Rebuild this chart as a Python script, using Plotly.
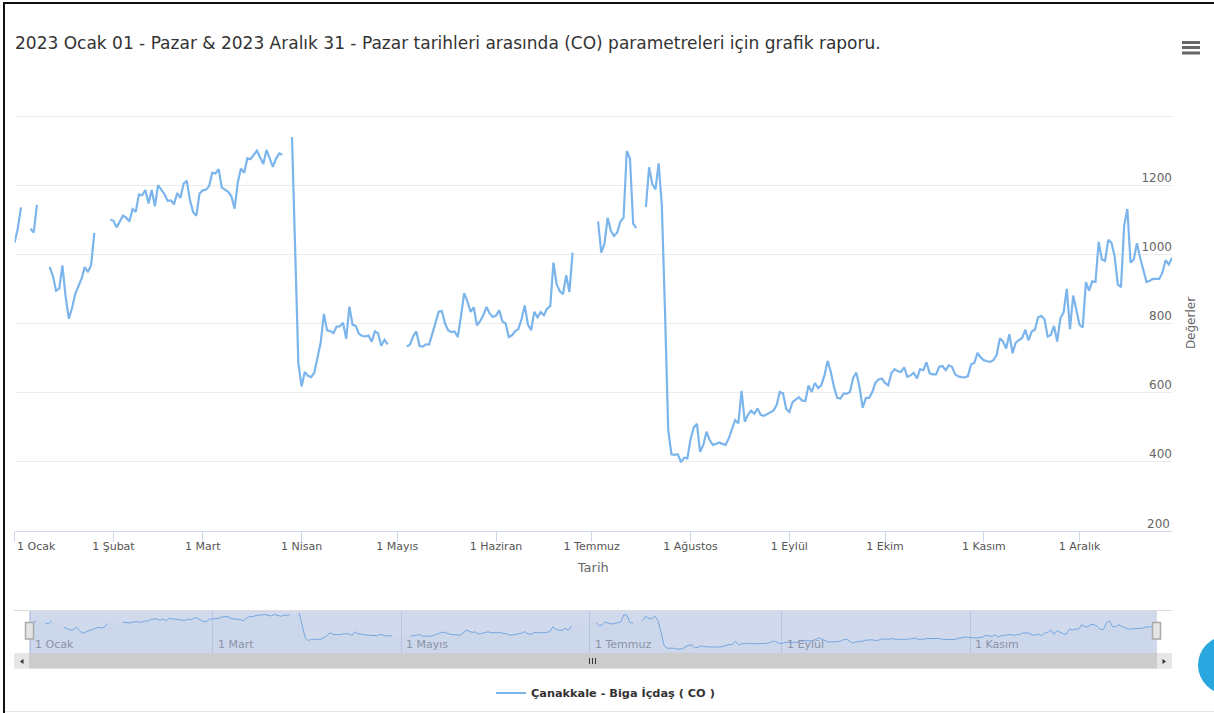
import pandas as pd
import plotly.graph_objects as go

W, H = 1214, 713
BLUE = "#7cb5ec"
FONT = "DejaVu Sans"

START_DATE = "2023-01-01"
END_DATE = "2023-12-30"
NAV_START = "2022-12-31 16:00"
NAV_END = "2023-12-31 08:00"

co_jan = [1034, 1075, 1136, None, None, 1074, 1063, 1143, None, None, None,
          964, 938, 895, 901, 968, 878, 814, 844, 885, 910, 930, 963, 949, 969, 1062,
          None, None, None, None,
          1100]
co_feb_mar = [1097, 1078, 1097, 1112, 1106, 1095, 1131, 1123, 1173, 1171, 1186, 1147,
              1186, 1139, 1200, 1188, 1174, 1155, 1156, 1145, 1177, 1163, 1204, 1213,
              1157, 1122, 1112, 1176, 1185, 1187, 1197, 1236, 1234, 1246, 1193, 1187,
              1181, 1168, 1132, 1208, 1248, 1236, 1278, 1275, 1287, 1300, 1280, 1261,
              1302, 1275, 1253, 1277, 1292, 1288, None, None,
              1339, 1012, 685]
co_apr = [618, 660, 649, 645, 658, 700, 745, 828, 780, 778, 772, 791, 792, 802, 756,
          849, 796, 793, 770, 764, 763, 765, 747, 777, 772, 736, 753, 740,
          None, None, None, None, None]
co_may_jun = [733, 739, 763, 777, 735, 733, 740, 739, 770, 804, 834, 836, 800, 780, 775,
              777, 761, 821, 888, 864, 834, 847, 795, 807, 824, 848, 829, 819, 823, 838,
              806, 800, 761, 766, 778, 784, 813, 852, 797, 781, 834, 818, 833, 824, 843,
              850, 976, 914, 893, 885, 940, 891, 1005,
              None, None, None, None, None, None, None,
              1095]
co_jul = [1005, 1030, 1106, 1068, 1053, 1063, 1095, 1106, 1299, 1277, 1089, 1076,
          None, None,
          1137, 1252, 1203, 1188, 1263, 1140, 831, 492, 422, 420, 422, 399, 412, 410]
co_aug = [465, 499, 510, 429, 449, 487, 463, 449, 452, 456, 452, 449, 468, 494, 521, 511,
          605, 516, 536, 548, 539, 554, 536, 533, 538, 543, 548, 564, 602, 598, 553, 544]
co_sep = [573, 580, 587, 577, 576, 621, 602, 628, 613, 621, 650, 692, 660, 616, 585, 583,
          597, 597, 602, 643, 658, 616, 556, 585, 585, 602, 629, 638, 641, 628, 621, 657]
co_oct = [668, 662, 660, 673, 646, 650, 657, 641, 668, 665, 688, 656, 653, 653, 675, 677,
          665, 679, 675, 653, 647, 645, 644, 648, 682, 686, 715, 702, 694, 691, 689]
co_nov = [694, 709, 757, 748, 728, 769, 714, 745, 752, 758, 782, 751, 777, 782, 818, 822,
          813, 762, 767, 793, 748, 816, 832, 900, 784, 881, 840, 796, 789, 920]
co_dec = [895, 922, 920, 1036, 985, 981, 1042, 1034, 995, 913, 905, 1083, 1131, 976, 985,
          1032, 990, 956, 920, 924, 929, 929, 929, 947, 983, 971, 990]
co_values = co_jan + co_feb_mar + co_apr + co_may_jun + co_jul + co_aug + co_sep + co_oct + co_nov + co_dec

month_dates = ["2023-01-01", "2023-02-01", "2023-03-01", "2023-04-01", "2023-05-01", "2023-06-01",
               "2023-07-01", "2023-08-01", "2023-09-01", "2023-10-01", "2023-11-01", "2023-12-01"]
month_labels = ["1 Ocak", "1 Şubat", "1 Mart", "1 Nisan", "1 Mayıs", "1 Haziran",
                "1 Temmuz", "1 Ağustos", "1 Eylül", "1 Ekim", "1 Kasım", "1 Aralık"]
nav_dates = month_dates[0::2]
nav_labels = month_labels[0::2]
y_ticks = [400, 600, 800, 1000, 1200, 1400]
y_labels = ["400", "600", "800", "1000", "1200", ""]
y_min = 200

TITLE = "2023 Ocak 01 - Pazar & 2023 Aralık 31 - Pazar tarihleri arasında (CO) parametreleri için grafik raporu."
SERIES = "Çanakkale - Biga İçdaş ( CO )"

dates = pd.date_range(START_DATE, periods=len(co_values), freq="D")


def px(x):
    return x / W


def py(y):
    return 1 - y / H


def rect(x0, y0, x1, y1, fill, line=None, width=1):
    return dict(type="rect", xref="paper", yref="paper", x0=px(x0), x1=px(x1), y0=py(y0), y1=py(y1),
                fillcolor=fill, line=dict(color=line or "rgba(0,0,0,0)", width=width if line else 0), layer="above")


def seg(x0, y0, x1, y1, color, width=1):
    return dict(type="line", xref="paper", yref="paper", x0=px(x0), x1=px(x1), y0=py(y0), y1=py(y1),
                line=dict(color=color, width=width), layer="above")


def tri(points, color):
    path = "M " + " L ".join(f"{px(a)},{py(b)}" for a, b in points) + " Z"
    return dict(type="path", xref="paper", yref="paper", path=path, fillcolor=color,
                line=dict(width=0), layer="above")


fig = go.Figure()
fig.add_trace(go.Scatter(x=dates, y=co_values, mode="lines", name=SERIES, xaxis="x", yaxis="y",
                         line=dict(color=BLUE, width=2.2), connectgaps=False))
fig.add_trace(go.Scatter(x=dates, y=co_values, mode="lines", xaxis="x2", yaxis="y2", showlegend=False,
                         line=dict(color=BLUE, width=1), fill="tozeroy", fillcolor="rgba(124,181,236,0.05)",
                         connectgaps=False, hoverinfo="skip"))

shapes = [
    rect(29, 611, 1157, 653, "rgba(102,133,194,0.3)"),
    seg(14, 610.5, 1172, 610.5, "#dcdcdc"),
    rect(14, 653, 1172, 669, "#f2f2f2"),
    rect(29, 653, 1157, 668.5, "#cccccc"),
    rect(14, 653, 29, 668.5, "#e6e6e6"),
    rect(1157, 653, 1172, 668.5, "#e6e6e6"),
    tri([(23.5, 659), (23.5, 664), (20, 661.5)], "#333333"),
    tri([(1162.5, 659), (1162.5, 664), (1166, 661.5)], "#333333"),
    seg(589.5, 658, 589.5, 664, "#333333"),
    seg(592.5, 658, 592.5, 664, "#333333"),
    seg(595.5, 658, 595.5, 664, "#333333"),
    rect(25.5, 622.5, 33.5, 639, "#e4e4e4", "#aaaaaa", 1.5),
    rect(1152.5, 622.5, 1160.5, 639, "#e4e4e4", "#aaaaaa", 1.5),
    # menu icon
    rect(1182, 41, 1200, 44, "#666666"),
    rect(1182, 46, 1200, 49, "#666666"),
    rect(1182, 51.5, 1200, 54.5, "#666666"),
    # screenshot frame
    rect(3, 3, 5, 713, "#111111"),
    rect(3, 2, 1214, 4, "#111111"),
    seg(5, 711.5, 1214, 711.5, "#e4e4e4"),
    # corner button
    dict(type="circle", xref="paper", yref="paper", x0=px(1198), x1=px(1256), y0=py(694), y1=py(636),
         fillcolor="#29a8e0", line=dict(width=0), layer="above"),
]

annotations = [
    dict(text=month_labels[0], x=month_dates[0], xref="x", y=py(546.5), yref="paper", xanchor="left", yanchor="middle",
         xshift=0, showarrow=False, font=dict(family=FONT, size=11, color="#555555")),
    dict(text=str(y_min), x=px(1172), xref="paper", y=y_min, yref="y", xanchor="right", yanchor="middle",
         yshift=7, showarrow=False, font=dict(family=FONT, size=12, color="#666666")),
]
for d, lab in zip(nav_dates, nav_labels):
    annotations.append(dict(text=lab, x=d, xref="x2", y=py(644.5), yref="paper", xanchor="left", yanchor="middle",
                            xshift=3, showarrow=False, font=dict(family=FONT, size=11, color="#8b93a5")))

fig.update_layout(
    width=W, height=H, autosize=False,
    margin=dict(l=0, r=0, t=0, b=0),
    paper_bgcolor="white", plot_bgcolor="white",
    title=dict(text=TITLE, x=px(15), xanchor="left", xref="paper", y=py(43), yanchor="middle", yref="paper",
               font=dict(family=FONT, size=17, color="#333333")),
    xaxis=dict(domain=[px(14.6), px(1172)], anchor="y", type="date", range=[START_DATE, END_DATE],
               tickmode="array", tickvals=month_dates, ticktext=[""] + month_labels[1:],
               tickfont=dict(family=FONT, size=11, color="#555555"),
               ticks="outside", ticklen=10, tickcolor="#ccd6eb", tickwidth=1, ticklabelstandoff=-5,
               showline=True, linecolor="#ccd6eb", linewidth=1, showgrid=False, zeroline=False,
               title=dict(text="Tarih", standoff=10, font=dict(family=FONT, size=13, color="#666666"))),
    yaxis=dict(domain=[py(531), py(115)], anchor="x", side="right", range=[y_min, 1403],
               tickmode="array", tickvals=y_ticks, ticktext=[f"{t}<br> " if t else "" for t in y_labels],
               ticklabelposition="inside", ticklabelstandoff=-3,
               tickfont=dict(family=FONT, size=12, color="#666666"),
               ticks="", showline=False, gridcolor="#ececec", gridwidth=1, zeroline=False,
               title=dict(text="Değerler", standoff=15, font=dict(family=FONT, size=12, color="#666666"))),
    xaxis2=dict(domain=[px(29), px(1157)], anchor="y2", type="date", range=[NAV_START, NAV_END],
                tickmode="array", tickvals=nav_dates, ticktext=["" for _ in nav_dates],
                showline=False, showgrid=True, gridcolor="#dfe3ec", gridwidth=1, zeroline=False, ticks=""),
    yaxis2=dict(domain=[py(653), py(611)], anchor="x2", range=[297, 1390], showgrid=False, showticklabels=False,
                zeroline=False, showline=False, ticks=""),
    showlegend=True,
    legend=dict(orientation="h", x=px(491), y=py(693), xanchor="left", yanchor="middle",
                bgcolor="rgba(0,0,0,0)", itemwidth=30,
                font=dict(family=FONT, size=11.3, color="#333333", weight=700)),
    shapes=shapes,
    annotations=annotations,
)

fig.write_html("out.html", config={"displayModeBar": False},
               post_script="document.body.style.margin='0';document.body.style.overflow='hidden';")
